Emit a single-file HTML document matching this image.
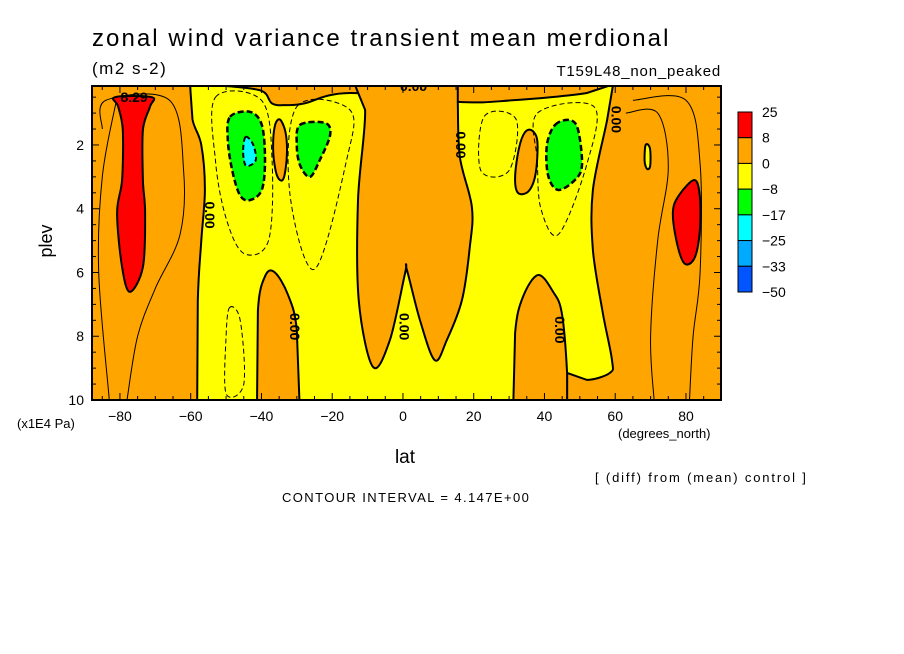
<!DOCTYPE html>
<html><head><meta charset="utf-8"><style>
body{margin:0;background:#fff;}
svg{display:block;font-family:"Liberation Sans",sans-serif;}
</style></head><body>
<svg width="904" height="654" viewBox="0 0 904 654" id="chart">
<text x="92" y="46" font-size="24" letter-spacing="2.05">zonal wind variance transient mean merdional</text>
<text x="92" y="74" font-size="17" letter-spacing="1.5">(m2 s-2)</text>
<text x="721" y="76" font-size="15" text-anchor="end" letter-spacing="0.8">T159L48_non_peaked</text>
<text x="52" y="241" font-size="18" transform="rotate(-90 52 241)" text-anchor="middle">plev</text>
<text x="17" y="428" font-size="13">(x1E4 Pa)</text>
<text x="405" y="463" font-size="19" text-anchor="middle">lat</text>
<text x="618" y="438" font-size="13">(degrees_north)</text>
<text x="595" y="482" font-size="13" letter-spacing="1.85">[ (diff) from (mean) control ]</text>
<text x="282" y="502" font-size="13" letter-spacing="1.4">CONTOUR INTERVAL = 4.147E+00</text>
<defs><clipPath id="plotclip"><rect x="92" y="86" width="629" height="314"/></clipPath></defs>
<g id="plot" clip-path="url(#plotclip)"></g>
<g id="axes"></g>
<g id="cbar"></g>
</svg>
<script>
// axis ticks
const latTicks = [-80, -60, -40, -20, 0, 20, 40, 60, 80];
const latTickLabels = ["−80", "−60", "−40", "−20", "0", "20", "40", "60", "80"];
const plevTicks = [2, 4, 6, 8, 10];
const plevTickLabels = ["2", "4", "6", "8", "10"];
// colorbar levels
const cbLevels = ["25", "8", "0", "−8", "−17", "−25", "−33", "−50"];
const cbColors = ["#ff0000", "#ffa500", "#ffff00", "#00ff00", "#00ffff", "#00aaff", "#0055ff"];
// filled contour regions in (lat, plev) data coordinates; third element 1 = sharp corner
const yellowMain = [[-60.2,0.1,1],[-59.5,1.2],[-57,2],[-56,3.4],[-57,5],[-58,6.9],[-58.2,10.5,1],[46.4,10.5,1],[46.4,9.15,1],[52,9.37],[58.5,9.15],[59.1,8.75],[56.5,7.27],[53.7,5.29],[53.7,3.41],[57.7,1.22],[59.4,0.1,1],[52,0.37],[31,0.6],[15.5,0.65],[-15,0.37],[-28,0.7],[-33,0.75],[-37,0.7],[-40,0.3],[-50,0.15]];
const orangeCentral = [[-14,0.0,1],[-10.7,0.9],[-12.7,3.73],[-12.5,6.86],[-8.5,8.96],[-3.7,8.12],[0.6,6.02],[1.1,5.92],[4.8,7.49],[9,8.75],[12.4,8.12],[16.7,6.86],[18.9,5.2],[19.5,3.95],[16.1,2.38],[15.5,0.68],[15.5,0.0,1]];
const orangeLeftCol = [[-41.3,10.5,1],[-41,7.2],[-38.9,6.1],[-36.2,6.0],[-32.5,6.7],[-30,7.8],[-29.1,10.5,1]];
const orangeRightCol = [[31.1,10.5,1],[31.7,7.9],[33.9,6.77],[38.2,6.08],[42.4,6.6],[44.9,7.27],[46.4,9.15],[46.4,10.5,1]];
const orangeOvalL = [[-34.8,1.2],[-33.2,1.6],[-32.8,2.3],[-33.6,3.0],[-34.8,3.1],[-36,2.8],[-36.7,2.1],[-36.2,1.4]];
const orangeOvalR = [[36.5,1.55],[38,1.9],[37.5,2.9],[35.5,3.45],[32.5,3.5],[31.7,3.0],[32.8,2.1],[34.5,1.6]];
const yellowBlobR = [[68.6,2.0],[69.8,2.1],[69.9,2.65],[69,2.75],[68.3,2.5]];
const redLeft = [[-81.4,0.5],[-71,0.5],[-71.5,0.8],[-73.5,1.53],[-73.5,3.1],[-72.9,4.13],[-73.5,5.83],[-77.2,6.61],[-79.4,5.83],[-80.8,4.13],[-79.4,3.1],[-79.2,1.53],[-80.5,0.8]];
const redRight = [[82.4,3.1],[83.9,3.6],[83.9,4.7],[82.4,5.55],[79.6,5.72],[77.5,5.1],[76.3,4.1],[78.2,3.55]];
const greenL1 = [[-48.9,1.12],[-43.3,0.96],[-39.9,1.37],[-39,2.47],[-39.9,3.41],[-43.3,3.73],[-46.1,3.57],[-48.3,2.78],[-49.5,1.84]];
const cyanL = [[-44.5,1.75],[-42.5,1.95],[-41.5,2.4],[-42.5,2.6],[-44.5,2.63],[-45.2,2.2]];
const greenL2 = [[-29.1,1.37],[-22,1.31],[-20.6,1.69],[-23.5,2.47],[-26.3,3.0],[-29.1,2.63],[-30,2.0]];
const greenR = [[43,1.37],[47.2,1.22],[49.5,1.53],[50.6,2.63],[48.6,3.1],[43.8,3.41],[41,2.94],[40.7,2.0]];
// thin contour lines (lat, plev)
const dashL = [[-53,0.5],[-40,0.6],[-37,2.5],[-38,5.0],[-45,5.4],[-50,4.3],[-53,2.5]];
const dashL2 = [[-30,0.8],[-15,0.9],[-16,2.5],[-25,5.9],[-32,3.5]];
const dashLow = [[-49,7.1],[-46,7.5],[-45,9.5],[-50,9.8],[-50,8]];
const dashR = [[23,1.1],[32,1.2],[30,2.8],[22,2.8]];
const dashR2 = [[38,1.0],[54,0.8],[52,2.6],[44,4.8],[39,4.0],[38,2.5]];
const thinL = [[-85,1.5],[-84,0.6],[-66,0.6],[-62,2.8],[-63,4.8],[-70,6.5],[-75,8],[-78,10]];
const thinL2 = [[-81,0.6],[-85,3],[-86,6],[-83,10]];
const thinR = [[65,0.6],[80,0.6],[84,2.6],[84,6],[82,8],[81,10]];
const thinR2 = [[63,1.0],[72,1.0],[75,2.7],[72,5],[70,8],[71,10]];
const contourLabels = [[-56,4.2,"0.00",90],[-32,7.7,"0.00",90],[-1,7.7,"0.00",90],[15,2.0,"0.00",90],[43,7.8,"0.00",90],[59,1.2,"0.00",90],[3,0.3,"0.00",0],[-76,0.65,"8.29",0]];

const X0 = 92, X1 = 721, Y0 = 86, Y1 = 400;
const latMin = -87.9, latMax = 89.9, pMin = 0.15, pMax = 10;
const xs = lat => X0 + (lat - latMin) / (latMax - latMin) * (X1 - X0);
const ys = p => Y0 + (p - pMin) / (pMax - pMin) * (Y1 - Y0);
const NS = "http://www.w3.org/2000/svg";
const plot = document.getElementById('plot');
const axes = document.getElementById('axes');
const cbar = document.getElementById('cbar');

function smoothPath(pts, closed) {
  const P = pts.map(p => [xs(p[0]), ys(p[1]), p[2] || 0]);
  const n = P.length;
  let d = `M${P[0][0].toFixed(1)},${P[0][1].toFixed(1)}`;
  const get = i => closed ? P[(i + n) % n] : P[Math.max(0, Math.min(n - 1, i))];
  const last = closed ? n : n - 1;
  for (let i = 0; i < last; i++) {
    const p0 = get(i - 1), p1 = get(i), p2 = get(i + 1), p3 = get(i + 2);
    const c1 = p1[2] || p2[2] ? [p1[0], p1[1]] : [p1[0] + (p2[0] - p0[0]) / 6, p1[1] + (p2[1] - p0[1]) / 6];
    const c2 = p2[2] || p1[2] ? [p2[0], p2[1]] : [p2[0] - (p3[0] - p1[0]) / 6, p2[1] - (p3[1] - p1[1]) / 6];
    d += `C${c1[0].toFixed(1)},${c1[1].toFixed(1)} ${c2[0].toFixed(1)},${c2[1].toFixed(1)} ${p2[0].toFixed(1)},${p2[1].toFixed(1)}`;
  }
  return d + (closed ? 'Z' : '');
}
function region(pts, fill, name, stroke, sw, dash) {
  const el = document.createElementNS(NS, 'path');
  el.setAttribute('d', smoothPath(pts, true));
  el.setAttribute('fill', fill);
  el.setAttribute('stroke', stroke || '#000');
  el.setAttribute('stroke-width', sw || 2);
  if (dash) el.setAttribute('stroke-dasharray', dash);
  
  
  plot.appendChild(el);
}
function line(pts, name, closed, dash) {
  const el = document.createElementNS(NS, 'path');
  el.setAttribute('d', smoothPath(pts, closed));
  el.setAttribute('fill', 'none');
  el.setAttribute('stroke', '#000');
  el.setAttribute('stroke-width', 1);
  if (dash) el.setAttribute('stroke-dasharray', dash);
  
  
  plot.appendChild(el);
}
const bg = document.createElementNS(NS, 'rect');
bg.setAttribute('x', X0); bg.setAttribute('y', Y0); bg.setAttribute('width', X1 - X0); bg.setAttribute('height', Y1 - Y0);
bg.setAttribute('fill', '#ffa500');


plot.appendChild(bg);
line(thinL, 'contour-line-left', false);
line(thinL2, 'contour-line-left-outer', false);
line(thinR, 'contour-line-right', false);
line(thinR2, 'contour-line-right-inner', false);
region(yellowMain, '#ffff00', 'region-negative-main');
region(orangeCentral, '#ffa500', 'region-positive-central');
region(orangeLeftCol, '#ffa500', 'region-positive-left-column');
region(orangeRightCol, '#ffa500', 'region-positive-right-column');
region(orangeOvalL, '#ffa500', 'region-positive-oval-left');
region(orangeOvalR, '#ffa500', 'region-positive-oval-right');
region(yellowBlobR, '#ffff00', 'region-negative-blob-right');
region(redLeft, '#ff0000', 'region-max-left');
region(redRight, '#ff0000', 'region-max-right');
line(dashL, 'dashed-contour-left', true, '5,3');
line(dashL2, 'dashed-contour-left-2', true, '5,3');
line(dashLow, 'dashed-contour-low', true, '5,3');
line(dashR, 'dashed-contour-right', true, '5,3');
line(dashR2, 'dashed-contour-right-2', true, '5,3');
region(greenL1, '#00ff00', 'region-min-left', '#000', 2.5, '6,3');
region(cyanL, '#00ffff', 'region-min-left-core', '#000', 2, '5,3');
region(greenL2, '#00ff00', 'region-min-left-2', '#000', 2.5, '6,3');
region(greenR, '#00ff00', 'region-min-right', '#000', 2.5, '6,3');
contourLabels.forEach(c => {
  const t = document.createElementNS(NS, 'text');
  const x = xs(c[0]), y = ys(c[1]);
  t.setAttribute('x', x); t.setAttribute('y', y);
  t.setAttribute('font-size', 14); t.setAttribute('text-anchor', 'middle');
  t.setAttribute('font-weight', 'bold');
  if (c[3]) t.setAttribute('transform', `rotate(${c[3]} ${x} ${y})`);
  t.textContent = c[2];
  
  
  plot.appendChild(t);
});
// frame
const fr = document.createElementNS(NS, 'rect');
fr.setAttribute('x', X0); fr.setAttribute('y', Y0); fr.setAttribute('width', X1 - X0); fr.setAttribute('height', Y1 - Y0);
fr.setAttribute('fill', 'none'); fr.setAttribute('stroke', '#000'); fr.setAttribute('stroke-width', 2);


axes.appendChild(fr);
function tick(x1, y1, x2, y2) {
  const l = document.createElementNS(NS, 'line');
  l.setAttribute('x1', x1); l.setAttribute('y1', y1); l.setAttribute('x2', x2); l.setAttribute('y2', y2);
  l.setAttribute('stroke', '#000'); l.setAttribute('stroke-width', 1);
  
  
  axes.appendChild(l);
}
for (let lat = -85; lat <= 85; lat += 5) {
  const maj = lat % 20 === 0, len = maj ? 7 : 4;
  tick(xs(lat), Y1, xs(lat), Y1 - len); tick(xs(lat), Y0, xs(lat), Y0 + len);
}
for (let p = 0.5; p <= 10; p += 0.5) {
  const maj = Number.isInteger(p) && p % 2 === 0, len = maj ? 7 : 4;
  tick(X0, ys(p), X0 + len, ys(p)); tick(X1, ys(p), X1 - len, ys(p));
}
latTicks.forEach((lat, i) => {
  const t = document.createElementNS(NS, 'text');
  t.setAttribute('x', xs(lat)); t.setAttribute('y', 421);
  t.setAttribute('font-size', 14); t.setAttribute('text-anchor', 'middle');
  t.textContent = latTickLabels[i];
  
  
  axes.appendChild(t);
});
plevTicks.forEach((p, i) => {
  const t = document.createElementNS(NS, 'text');
  t.setAttribute('x', 84); t.setAttribute('y', ys(p) + 5);
  t.setAttribute('font-size', 14); t.setAttribute('text-anchor', 'end');
  t.textContent = plevTickLabels[i];
  
  
  axes.appendChild(t);
});
// colorbar
const cbTop = 112, cbBot = 292, cbX = 738, cbW = 14;
const h = (cbBot - cbTop) / cbColors.length;
cbColors.forEach((c, i) => {
  const r = document.createElementNS(NS, 'rect');
  r.setAttribute('x', cbX); r.setAttribute('y', cbTop + i * h); r.setAttribute('width', cbW); r.setAttribute('height', h);
  r.setAttribute('fill', c); r.setAttribute('stroke', '#000'); r.setAttribute('stroke-width', 1);
  
  
  cbar.appendChild(r);
});
cbLevels.forEach((lv, i) => {
  const t = document.createElementNS(NS, 'text');
  t.setAttribute('x', 762); t.setAttribute('y', cbTop + i * h + 5);
  t.setAttribute('font-size', 14);
  t.textContent = lv;
  
  
  cbar.appendChild(t);
});
</script>
</body></html>
